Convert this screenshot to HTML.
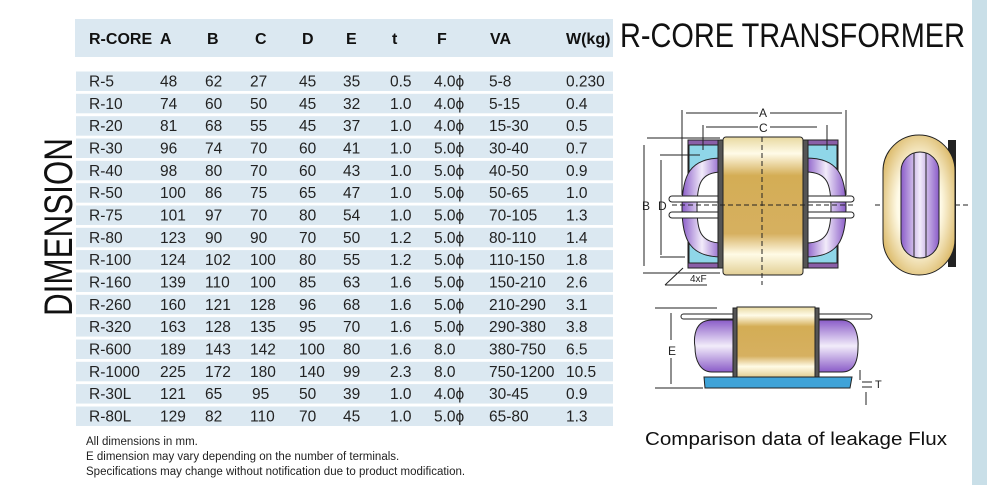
<!DOCTYPE html>
<html><head><meta charset="utf-8"><style>
html,body{margin:0;padding:0;background:#fff;}
svg{display:block;}
</style></head><body>
<svg width="987" height="485" viewBox="0 0 987 485" xmlns="http://www.w3.org/2000/svg" font-family="Liberation Sans, sans-serif">
<defs>
<linearGradient id="gold" x1="0" y1="0" x2="0" y2="1">
<stop offset="0" stop-color="#e8d9a0"/><stop offset="0.12" stop-color="#fffbe8"/><stop offset="0.28" stop-color="#d4ad55"/><stop offset="0.7" stop-color="#d6b060"/><stop offset="0.85" stop-color="#fffbe6"/><stop offset="1" stop-color="#e2cf95"/>
</linearGradient>
<linearGradient id="purp" x1="0" y1="0" x2="1" y2="0">
<stop offset="0" stop-color="#8a5cc8"/><stop offset="0.5" stop-color="#f2ecfa"/><stop offset="1" stop-color="#8a5cc8"/>
</linearGradient>
<linearGradient id="purpv" x1="0" y1="0" x2="0" y2="1">
<stop offset="0" stop-color="#8a5cc8"/><stop offset="0.5" stop-color="#f2ecfa"/><stop offset="1" stop-color="#8a5cc8"/>
</linearGradient>
<radialGradient id="ovalg" cx="0.5" cy="0.5" r="0.6">
<stop offset="0.5" stop-color="#fffbe8"/><stop offset="1" stop-color="#d8b35c"/>
</radialGradient>
</defs>
<rect x="972" y="0" width="15" height="485" fill="#c9dfe8"/>
<rect x="75" y="19" width="538" height="38" fill="#dbe8f1"/>
<g font-size="16" font-weight="bold" fill="#111">
<text x="89" y="44">R-CORE</text><text x="160" y="44">A</text><text x="207" y="44">B</text><text x="255" y="44">C</text><text x="302" y="44">D</text><text x="346" y="44">E</text><text x="392" y="44">t</text><text x="437" y="44">F</text><text x="490" y="44">VA</text><text x="566" y="44">W(kg)</text>
</g>
<g fill="#dbe8f1">
<rect x="76" y="71.5" width="537" height="19.5"/><rect x="76" y="93.8" width="537" height="19.5"/><rect x="76" y="116.2" width="537" height="19.5"/><rect x="76" y="138.5" width="537" height="19.5"/><rect x="76" y="160.8" width="537" height="19.5"/><rect x="76" y="183.2" width="537" height="19.5"/><rect x="76" y="205.5" width="537" height="19.5"/><rect x="76" y="227.8" width="537" height="19.5"/><rect x="76" y="250.1" width="537" height="19.5"/><rect x="76" y="272.5" width="537" height="19.5"/><rect x="76" y="294.8" width="537" height="19.5"/><rect x="76" y="317.1" width="537" height="19.5"/><rect x="76" y="339.5" width="537" height="19.5"/><rect x="76" y="361.8" width="537" height="19.5"/><rect x="76" y="384.1" width="537" height="19.5"/><rect x="76" y="406.5" width="537" height="19.5"/>
</g>
<g font-size="15.5" fill="#222" font-family="Liberation Sans, DejaVu Sans, sans-serif">
<g transform="translate(0,86.5)"><text x="89">R-5</text><text x="160">48</text><text x="205">62</text><text x="250">27</text><text x="299">45</text><text x="343">35</text><text x="390">0.5</text><text x="434">4.0ϕ</text><text x="489">5-8</text><text x="566">0.230</text></g>
<g transform="translate(0,108.8)"><text x="89">R-10</text><text x="160">74</text><text x="205">60</text><text x="250">50</text><text x="299">45</text><text x="343">32</text><text x="390">1.0</text><text x="434">4.0ϕ</text><text x="489">5-15</text><text x="566">0.4</text></g>
<g transform="translate(0,131.2)"><text x="89">R-20</text><text x="160">81</text><text x="205">68</text><text x="250">55</text><text x="299">45</text><text x="343">37</text><text x="390">1.0</text><text x="434">4.0ϕ</text><text x="489">15-30</text><text x="566">0.5</text></g>
<g transform="translate(0,153.5)"><text x="89">R-30</text><text x="160">96</text><text x="205">74</text><text x="250">70</text><text x="299">60</text><text x="343">41</text><text x="390">1.0</text><text x="434">5.0ϕ</text><text x="489">30-40</text><text x="566">0.7</text></g>
<g transform="translate(0,175.8)"><text x="89">R-40</text><text x="160">98</text><text x="205">80</text><text x="250">70</text><text x="299">60</text><text x="343">43</text><text x="390">1.0</text><text x="434">5.0ϕ</text><text x="489">40-50</text><text x="566">0.9</text></g>
<g transform="translate(0,198.2)"><text x="89">R-50</text><text x="160">100</text><text x="205">86</text><text x="250">75</text><text x="299">65</text><text x="343">47</text><text x="390">1.0</text><text x="434">5.0ϕ</text><text x="489">50-65</text><text x="566">1.0</text></g>
<g transform="translate(0,220.5)"><text x="89">R-75</text><text x="160">101</text><text x="205">97</text><text x="250">70</text><text x="299">80</text><text x="343">54</text><text x="390">1.0</text><text x="434">5.0ϕ</text><text x="489">70-105</text><text x="566">1.3</text></g>
<g transform="translate(0,242.8)"><text x="89">R-80</text><text x="160">123</text><text x="205">90</text><text x="250">90</text><text x="299">70</text><text x="343">50</text><text x="390">1.2</text><text x="434">5.0ϕ</text><text x="489">80-110</text><text x="566">1.4</text></g>
<g transform="translate(0,265.1)"><text x="89">R-100</text><text x="160">124</text><text x="205">102</text><text x="250">100</text><text x="299">80</text><text x="343">55</text><text x="390">1.2</text><text x="434">5.0ϕ</text><text x="489">110-150</text><text x="566">1.8</text></g>
<g transform="translate(0,287.5)"><text x="89">R-160</text><text x="160">139</text><text x="205">110</text><text x="250">100</text><text x="299">85</text><text x="343">63</text><text x="390">1.6</text><text x="434">5.0ϕ</text><text x="489">150-210</text><text x="566">2.6</text></g>
<g transform="translate(0,309.8)"><text x="89">R-260</text><text x="160">160</text><text x="205">121</text><text x="250">128</text><text x="299">96</text><text x="343">68</text><text x="390">1.6</text><text x="434">5.0ϕ</text><text x="489">210-290</text><text x="566">3.1</text></g>
<g transform="translate(0,332.1)"><text x="89">R-320</text><text x="160">163</text><text x="205">128</text><text x="250">135</text><text x="299">95</text><text x="343">70</text><text x="390">1.6</text><text x="434">5.0ϕ</text><text x="489">290-380</text><text x="566">3.8</text></g>
<g transform="translate(0,354.5)"><text x="89">R-600</text><text x="160">189</text><text x="205">143</text><text x="250">142</text><text x="299">100</text><text x="343">80</text><text x="390">1.6</text><text x="434">8.0</text><text x="489">380-750</text><text x="566">6.5</text></g>
<g transform="translate(0,376.8)"><text x="89">R-1000</text><text x="160">225</text><text x="205">172</text><text x="250">180</text><text x="299">140</text><text x="343">99</text><text x="390">2.3</text><text x="434">8.0</text><text x="489">750-1200</text><text x="566">10.5</text></g>
<g transform="translate(0,399.1)"><text x="89">R-30L</text><text x="160">121</text><text x="205">65</text><text x="252">95</text><text x="299">50</text><text x="343">39</text><text x="390">1.0</text><text x="434">4.0ϕ</text><text x="489">30-45</text><text x="566">0.9</text></g>
<g transform="translate(0,421.5)"><text x="89">R-80L</text><text x="160">129</text><text x="205">82</text><text x="250">110</text><text x="299">70</text><text x="343">45</text><text x="390">1.0</text><text x="434">5.0ϕ</text><text x="489">65-80</text><text x="566">1.3</text></g>
</g>
<text transform="translate(72,316) rotate(-90)" font-size="40" fill="#111" textLength="178" lengthAdjust="spacingAndGlyphs">DIMENSION</text>
<g font-size="11.5" fill="#222">
<text x="86" y="445">All dimensions in mm.</text>
<text x="86" y="460">E dimension may vary depending on the number of terminals.</text>
<text x="86" y="475">Specifications may change without notification due to product modification.</text>
</g>
<text x="620" y="47" font-size="34" fill="#111" textLength="345" lengthAdjust="spacingAndGlyphs">R-CORE TRANSFORMER</text>
<text x="796" y="445" font-size="18" fill="#111" text-anchor="middle" textLength="302" lengthAdjust="spacingAndGlyphs">Comparison data of leakage Flux</text>
<g stroke="#222" stroke-width="1">
<rect x="688" y="140" width="150" height="128" fill="#8a5fa8"/>
<rect x="689" y="145" width="148" height="118" fill="#8fd6e8"/>
<path d="M722 158 C690 158 682 175 682 208 C682 240 690 257 722 257 Z" fill="url(#purp)"/>
<path d="M806 158 C838 158 846 175 846 208 C846 240 838 257 806 257 Z" fill="url(#purp)"/>
<path d="M722 172 C700 172 697 185 697 208 C697 230 700 243 722 243 Z" fill="#fff"/>
<path d="M806 172 C828 172 831 185 831 208 C831 230 828 243 806 243 Z" fill="#fff"/>
<rect x="669" y="196" width="185" height="6" rx="3" fill="#fff"/>
<rect x="669" y="212" width="185" height="6" rx="3" fill="#fff"/>
<rect x="718" y="140" width="7" height="128" fill="#555"/>
<rect x="801" y="140" width="7" height="128" fill="#555"/>
<rect x="723" y="137" width="80" height="138" rx="3" fill="url(#gold)"/>
</g>
<g stroke="#222" stroke-width="1" fill="none">
<line x1="762" y1="137" x2="762" y2="285" stroke-dasharray="5,3"/>
<line x1="672" y1="205" x2="854" y2="205" stroke-dasharray="5,3"/>
<line x1="682" y1="110" x2="682" y2="195"/><line x1="846" y1="110" x2="846" y2="195"/>
<line x1="686" y1="113" x2="842" y2="113"/>
<line x1="706" y1="127" x2="817" y2="127"/>
<line x1="703" y1="125" x2="703" y2="150"/><line x1="827" y1="125" x2="827" y2="150"/>
<line x1="647" y1="138" x2="720" y2="138"/>
<line x1="643" y1="273" x2="720" y2="273"/>
<line x1="644" y1="145" x2="644" y2="266"/>
<line x1="660" y1="155" x2="700" y2="155"/>
<line x1="661" y1="160" x2="661" y2="255"/>
<line x1="660" y1="257" x2="685" y2="257"/>
<line x1="665" y1="285" x2="707" y2="285"/><line x1="665" y1="285" x2="683" y2="268"/>
<line x1="875" y1="205" x2="970" y2="205" stroke-dasharray="5,3"/>
</g>
<g font-size="12" fill="#222">
<rect x="758" y="103" width="12" height="14" fill="#fff"/><text x="759" y="117">A</text>
<rect x="758" y="120" width="12" height="14" fill="#fff"/><text x="759" y="132">C</text>
<text x="642" y="210">B</text><text x="658" y="210">D</text>
<text x="690" y="282" font-size="10">4xF</text>
<text x="668" y="355">E</text><text x="875" y="388" font-size="11">T</text>
</g>
<rect x="948" y="140" width="8" height="127" fill="#222"/>
<rect x="883" y="135" width="72" height="140" rx="36" fill="url(#ovalg)" stroke="#222"/>
<rect x="901" y="152" width="38" height="106" rx="19" fill="url(#purp)" stroke="#222"/>
<line x1="914" y1="153" x2="914" y2="257" stroke="#222"/><line x1="926" y1="153" x2="926" y2="257" stroke="#222"/>
<g stroke="#222" stroke-width="1">
<path d="M704 377 L852 377 L850 388 L705 388 Z" fill="#3fa3d8"/>
<rect x="681" y="314" width="62" height="5" rx="2.5" fill="#fff"/>
<rect x="808" y="314" width="64" height="5" rx="2.5" fill="#fff"/>
<path d="M740 320 L712 320 C690 320 695 347 695 347 C695 360 700 372 712 372 L740 372 Z" fill="url(#purpv)"/>
<path d="M815 320 L842 320 C860 320 858 347 858 347 C858 360 855 372 842 372 L815 372 Z" fill="url(#purpv)"/>
<rect x="733" y="308" width="86" height="69" fill="#555"/>
<rect x="737" y="307" width="78" height="70" fill="url(#gold)"/>
</g>
<g stroke="#222" fill="none">
<line x1="655" y1="308" x2="717" y2="308"/><line x1="655" y1="388" x2="703" y2="388"/>
<line x1="671" y1="313" x2="671" y2="340"/><line x1="671" y1="358" x2="671" y2="384"/>
<line x1="860" y1="370" x2="860" y2="380"/><line x1="862" y1="382" x2="872" y2="382"/><line x1="862" y1="387" x2="872" y2="387"/><line x1="866" y1="392" x2="866" y2="405"/>
</g>
</svg>
</body></html>
